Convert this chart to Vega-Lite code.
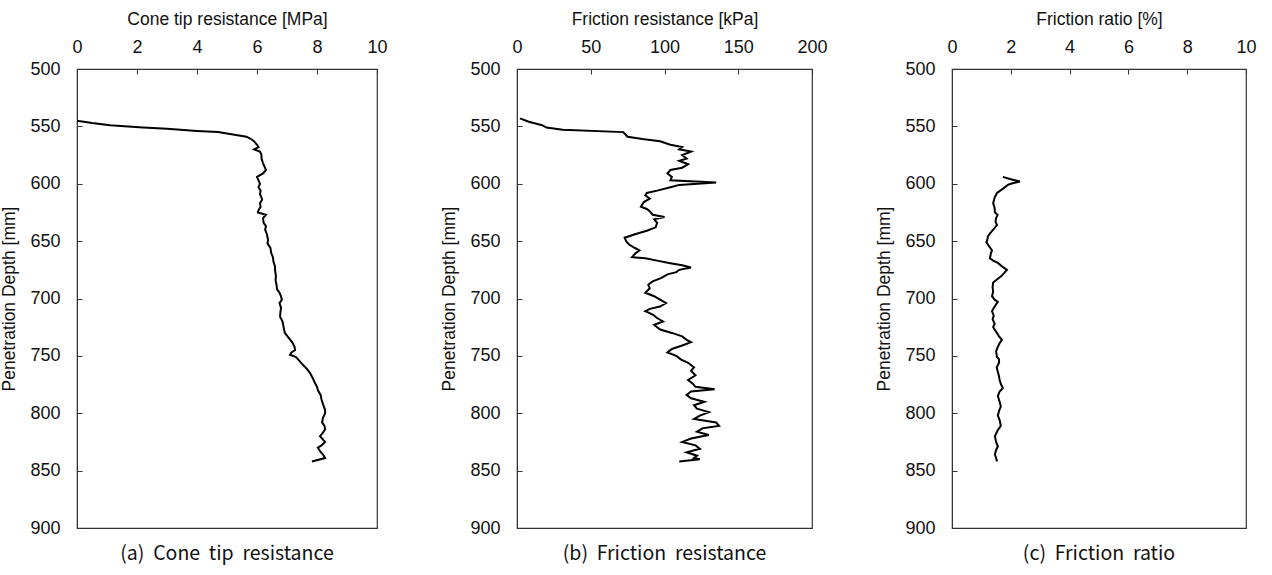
{
  "$schema": "https://vega.github.io/schema/vega-lite/v6.json",
  "background": "white",
  "padding": {"left": 0, "top": 9, "right": 5, "bottom": 5},
  "bounds": "flush",
  "spacing": 140,
  "config": {
    "font": "Liberation Sans",
    "view": {"stroke": "#333333", "strokeWidth": 1.2},
    "axis": {
      "grid": false,
      "domainColor": "#333333",
      "tickColor": "#333333",
      "tickSize": -5,
      "labelFontSize": 18,
      "labelColor": "#111111",
      "labelFlush": false,
      "labelOverlap": false,
      "titleFontSize": 17.5,
      "titleFontWeight": "normal",
      "titleColor": "#111111"
    },
    "axisY": {"titlePadding": 11, "labelPadding": 22},
    "axisX": {"titlePadding": 10, "labelPadding": 18},
    "title": {"orient": "bottom", "font": "Noto Sans CJK KR", "fontSize": 19.5, "fontWeight": "normal", "color": "#111111", "anchor": "middle", "offset": 8}
  },
  "datasets": {
    "qc": [
      {"d":545,"v":0},{"d":547,"v":0.5},{"d":549,"v":1.1},{"d":551,"v":2.2},{"d":552,"v":3.0},{"d":554,"v":4.0},{"d":555,"v":4.7},{"d":557,"v":5.2},{"d":559,"v":5.65},{"d":561,"v":5.8},{"d":563,"v":5.9},{"d":566,"v":6.0},{"d":568,"v":6.05},{"d":570,"v":5.9},{"d":572,"v":6.1},{"d":575,"v":6.15},{"d":578,"v":6.15},{"d":582,"v":6.2},{"d":585,"v":6.25},{"d":588,"v":6.3},{"d":591,"v":6.2},{"d":594,"v":6.0},{"d":597,"v":6.05},{"d":600,"v":6.1},{"d":603,"v":6.05},{"d":606,"v":6.12},{"d":609,"v":6.1},{"d":612,"v":6.15},{"d":614,"v":6.17},{"d":617,"v":6.1},{"d":620,"v":6.12},{"d":623,"v":6.05},{"d":625,"v":6.03},{"d":627,"v":6.3},{"d":630,"v":6.2},{"d":634,"v":6.22},{"d":637,"v":6.3},{"d":640,"v":6.27},{"d":644,"v":6.33},{"d":649,"v":6.37},{"d":652,"v":6.35},{"d":656,"v":6.45},{"d":660,"v":6.47},{"d":664,"v":6.53},{"d":668,"v":6.55},{"d":672,"v":6.6},{"d":675,"v":6.6},{"d":680,"v":6.63},{"d":684,"v":6.62},{"d":688,"v":6.65},{"d":692,"v":6.67},{"d":695,"v":6.75},{"d":698,"v":6.8},{"d":701,"v":6.83},{"d":704,"v":6.75},{"d":708,"v":6.8},{"d":712,"v":6.78},{"d":716,"v":6.77},{"d":720,"v":6.85},{"d":724,"v":6.88},{"d":727,"v":6.9},{"d":730,"v":6.93},{"d":734,"v":7.05},{"d":738,"v":7.17},{"d":742,"v":7.25},{"d":745,"v":7.27},{"d":747,"v":7.15},{"d":749,"v":7.1},{"d":751,"v":7.3},{"d":753,"v":7.37},{"d":757,"v":7.5},{"d":761,"v":7.65},{"d":765,"v":7.77},{"d":769,"v":7.85},{"d":773,"v":7.92},{"d":777,"v":8.0},{"d":780,"v":8.03},{"d":784,"v":8.12},{"d":788,"v":8.15},{"d":792,"v":8.2},{"d":797,"v":8.27},{"d":800,"v":8.27},{"d":804,"v":8.2},{"d":808,"v":8.17},{"d":811,"v":8.25},{"d":814,"v":8.27},{"d":817,"v":8.2},{"d":820,"v":8.1},{"d":823,"v":8.2},{"d":825,"v":8.27},{"d":828,"v":8.15},{"d":830,"v":8.03},{"d":833,"v":8.1},{"d":836,"v":8.2},{"d":839,"v":8.27},{"d":842,"v":7.83}
    ],
    "fs": [
      {"d":543,"v":2},{"d":546,"v":8},{"d":549,"v":17},{"d":551,"v":20},{"d":553,"v":31},{"d":555,"v":72},{"d":559,"v":75},{"d":561,"v":85},{"d":563,"v":97},{"d":566,"v":104},{"d":568,"v":112},{"d":570,"v":110},{"d":572,"v":118},{"d":575,"v":112},{"d":578,"v":115},{"d":580,"v":110},{"d":583,"v":116},{"d":586,"v":112},{"d":588,"v":104},{"d":591,"v":102},{"d":594,"v":105},{"d":597,"v":104},{"d":599,"v":135},{"d":601,"v":110},{"d":603,"v":104},{"d":606,"v":95},{"d":608,"v":88},{"d":610,"v":87},{"d":613,"v":90},{"d":616,"v":86},{"d":620,"v":84},{"d":622,"v":88},{"d":624,"v":90},{"d":627,"v":92},{"d":629,"v":100},{"d":631,"v":93},{"d":634,"v":95},{"d":638,"v":94},{"d":641,"v":88},{"d":644,"v":80},{"d":647,"v":73},{"d":650,"v":74},{"d":653,"v":76},{"d":656,"v":80},{"d":658,"v":83},{"d":661,"v":80},{"d":664,"v":78},{"d":665,"v":87},{"d":667,"v":95},{"d":669,"v":103},{"d":671,"v":112},{"d":673,"v":118},{"d":675,"v":110},{"d":677,"v":108},{"d":679,"v":102},{"d":682,"v":98},{"d":685,"v":92},{"d":688,"v":89},{"d":691,"v":90},{"d":695,"v":87},{"d":698,"v":93},{"d":701,"v":97},{"d":704,"v":101},{"d":707,"v":97},{"d":709,"v":90},{"d":711,"v":87},{"d":714,"v":92},{"d":717,"v":95},{"d":720,"v":99},{"d":723,"v":93},{"d":725,"v":95},{"d":727,"v":97},{"d":730,"v":105},{"d":733,"v":112},{"d":736,"v":115},{"d":738,"v":118},{"d":741,"v":112},{"d":744,"v":105},{"d":747,"v":102},{"d":750,"v":108},{"d":753,"v":111},{"d":756,"v":116},{"d":760,"v":120},{"d":763,"v":118},{"d":767,"v":121},{"d":771,"v":116},{"d":774,"v":119},{"d":777,"v":121},{"d":779,"v":134},{"d":781,"v":118},{"d":784,"v":115},{"d":787,"v":118},{"d":790,"v":127},{"d":793,"v":120},{"d":796,"v":122},{"d":799,"v":130},{"d":802,"v":124},{"d":805,"v":120},{"d":808,"v":135},{"d":811,"v":137},{"d":813,"v":126},{"d":816,"v":122},{"d":819,"v":130},{"d":822,"v":118},{"d":825,"v":112},{"d":828,"v":121},{"d":831,"v":124},{"d":834,"v":115},{"d":837,"v":122},{"d":839,"v":120},{"d":840,"v":124},{"d":842,"v":110}
    ],
    "fr": [
      {"d":594,"v":1.73},{"d":596,"v":2.0},{"d":598,"v":2.31},{"d":600,"v":2.0},{"d":601,"v":1.9},{"d":604,"v":1.75},{"d":608,"v":1.53},{"d":612,"v":1.45},{"d":617,"v":1.4},{"d":621,"v":1.45},{"d":625,"v":1.46},{"d":627,"v":1.55},{"d":630,"v":1.5},{"d":633,"v":1.48},{"d":636,"v":1.53},{"d":640,"v":1.4},{"d":643,"v":1.3},{"d":646,"v":1.22},{"d":649,"v":1.2},{"d":651,"v":1.17},{"d":654,"v":1.25},{"d":658,"v":1.36},{"d":661,"v":1.32},{"d":665,"v":1.29},{"d":667,"v":1.4},{"d":669,"v":1.56},{"d":672,"v":1.7},{"d":675,"v":1.87},{"d":677,"v":1.8},{"d":680,"v":1.7},{"d":683,"v":1.55},{"d":686,"v":1.4},{"d":690,"v":1.38},{"d":694,"v":1.4},{"d":698,"v":1.36},{"d":701,"v":1.45},{"d":703,"v":1.56},{"d":707,"v":1.45},{"d":711,"v":1.36},{"d":715,"v":1.42},{"d":718,"v":1.38},{"d":722,"v":1.45},{"d":725,"v":1.4},{"d":729,"v":1.5},{"d":733,"v":1.6},{"d":736,"v":1.7},{"d":739,"v":1.62},{"d":742,"v":1.56},{"d":746,"v":1.5},{"d":751,"v":1.53},{"d":753,"v":1.6},{"d":756,"v":1.6},{"d":760,"v":1.52},{"d":764,"v":1.56},{"d":768,"v":1.6},{"d":771,"v":1.62},{"d":775,"v":1.67},{"d":778,"v":1.73},{"d":781,"v":1.62},{"d":785,"v":1.56},{"d":790,"v":1.62},{"d":794,"v":1.66},{"d":798,"v":1.6},{"d":802,"v":1.56},{"d":806,"v":1.62},{"d":811,"v":1.66},{"d":815,"v":1.55},{"d":820,"v":1.46},{"d":825,"v":1.5},{"d":829,"v":1.56},{"d":832,"v":1.5},{"d":836,"v":1.46},{"d":839,"v":1.5},{"d":842,"v":1.53}
    ]
  },
  "hconcat": [
    {
      "width": 300, "height": 459,
      "data": {"name": "qc"},
      "title": {"text": "(a)\u00a0 Cone\u00a0 tip\u00a0 resistance"},
      "mark": {"type": "line", "color": "black", "strokeWidth": 2},
      "encoding": {
        "x": {"field": "v", "type": "quantitative", "scale": {"domain": [0, 10], "nice": false, "zero": false}, "axis": {"orient": "top", "title": "Cone tip resistance [MPa]", "values": [0, 2, 4, 6, 8, 10]}},
        "y": {"field": "d", "type": "quantitative", "scale": {"domain": [500, 900], "reverse": true, "nice": false, "zero": false}, "axis": {"title": "Penetration Depth [mm]", "values": [500, 550, 600, 650, 700, 750, 800, 850, 900]}},
        "order": {"field": "d", "type": "quantitative"}
      }
    },
    {
      "width": 295, "height": 459,
      "data": {"name": "fs"},
      "title": {"text": "(b)\u00a0 Friction\u00a0 resistance"},
      "mark": {"type": "line", "color": "black", "strokeWidth": 2},
      "encoding": {
        "x": {"field": "v", "type": "quantitative", "scale": {"domain": [0, 200], "nice": false, "zero": false}, "axis": {"orient": "top", "title": "Friction resistance [kPa]", "values": [0, 50, 100, 150, 200]}},
        "y": {"field": "d", "type": "quantitative", "scale": {"domain": [500, 900], "reverse": true, "nice": false, "zero": false}, "axis": {"title": "Penetration Depth [mm]", "values": [500, 550, 600, 650, 700, 750, 800, 850, 900]}},
        "order": {"field": "d", "type": "quantitative"}
      }
    },
    {
      "width": 294, "height": 459,
      "data": {"name": "fr"},
      "title": {"text": "(c)\u00a0 Friction\u00a0 ratio"},
      "mark": {"type": "line", "color": "black", "strokeWidth": 2},
      "encoding": {
        "x": {"field": "v", "type": "quantitative", "scale": {"domain": [0, 10], "nice": false, "zero": false}, "axis": {"orient": "top", "title": "Friction ratio [%]", "values": [0, 2, 4, 6, 8, 10]}},
        "y": {"field": "d", "type": "quantitative", "scale": {"domain": [500, 900], "reverse": true, "nice": false, "zero": false}, "axis": {"title": "Penetration Depth [mm]", "values": [500, 550, 600, 650, 700, 750, 800, 850, 900]}},
        "order": {"field": "d", "type": "quantitative"}
      }
    }
  ]
}
